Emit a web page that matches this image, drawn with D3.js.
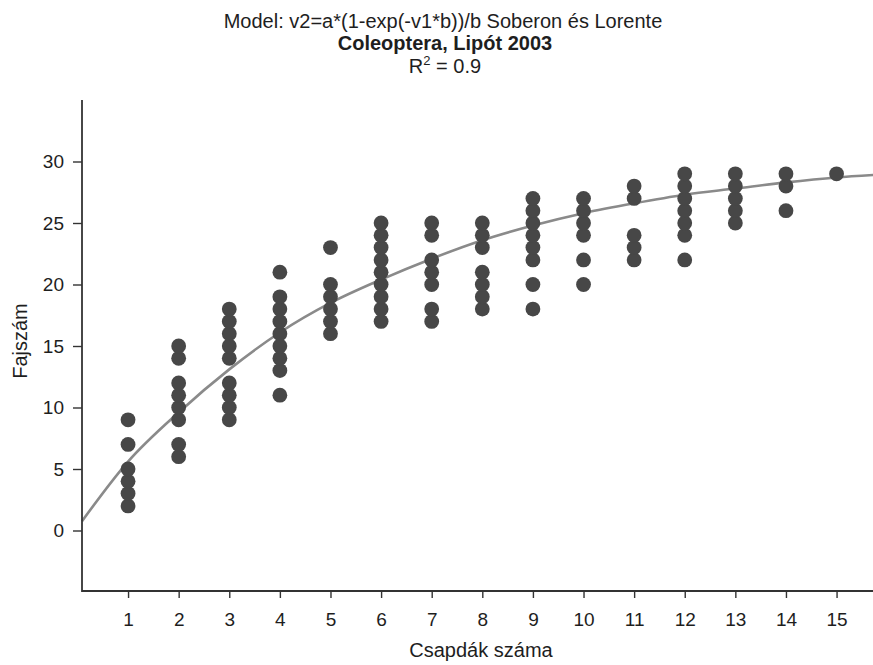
<!DOCTYPE html>
<html>
<head>
<meta charset="utf-8">
<script src="https://cdn.jsdelivr.net/npm/d3@7"></script>
<style>
  html, body { margin: 0; padding: 0; background: #fff; }
  svg { display: block; }
  text { font-family: "Liberation Sans", Arial, sans-serif; fill: #1e1e1e; }
</style>
</head>
<body>
<svg id="chart" width="873" height="665"></svg>
<script>
// Number of traps (x) and the species counts observed for each trap count
const trapCounts = [1, 2, 3, 4, 5, 6, 7, 8, 9, 10, 11, 12, 13, 14, 15];
const speciesByTraps = [
  [2, 3, 4, 5, 7, 9],
  [6, 7, 9, 10, 11, 12, 14, 15],
  [9, 10, 11, 12, 14, 15, 16, 17, 18],
  [11, 13, 14, 15, 16, 17, 18, 19, 21],
  [16, 17, 18, 19, 20, 23],
  [17, 18, 19, 20, 21, 22, 23, 24, 25],
  [17, 18, 20, 21, 22, 24, 25],
  [18, 19, 20, 21, 23, 24, 25],
  [18, 20, 22, 23, 24, 25, 26, 27],
  [20, 22, 24, 25, 26, 27],
  [22, 23, 24, 27, 28],
  [22, 24, 25, 26, 27, 28, 29],
  [25, 26, 27, 28, 29],
  [26, 28, 29],
  [29]
];

// Fitted Soberón–Llorente accumulation curve, sampled along the x range
const fitX = [0.09, 1, 2, 3, 4, 5, 6, 7, 8, 9, 10, 11, 12, 13, 14, 15, 15.73];
const fitY = [0.76, 5.6, 9.6, 13.1, 16.1, 18.5, 20.4, 22.1, 23.6, 24.8, 25.8, 26.6, 27.3, 27.8, 28.3, 28.7, 28.9];

const yTicks = [0, 5, 10, 15, 20, 25, 30];

const titleLine1 = "Model: v2=a*(1-exp(-v1*b))/b Soberon és Lorente";
const titleLine2 = "Coleoptera, Lipót 2003";
const rSquared = "0.9";
const xTitle = "Csapdák száma";
const yTitle = "Fajszám";

const points = [];
trapCounts.forEach((t, i) => speciesByTraps[i].forEach(s => points.push({ x: t, y: s })));
const fit = fitX.map((x, i) => ({ x, y: fitY[i] }));

const svg = d3.select("#chart");
const plotLeft = 82, plotRight = 873, plotTop = 100, plotBottom = 592;

const x = d3.scaleLinear().domain([0.09, 15.72]).range([plotLeft, plotRight]);
const y = d3.scaleLinear().domain([-5, 35]).range([plotBottom, plotTop]);

// Titles
const cx = 443;
svg.append("text").attr("x", cx).attr("y", 28).attr("text-anchor", "middle")
  .style("font-size", "20px").text(titleLine1);
svg.append("text").attr("x", cx + 2).attr("y", 50).attr("text-anchor", "middle")
  .style("font-size", "20px").style("font-weight", "bold").text(titleLine2);
const r2 = svg.append("text").attr("x", cx + 2).attr("y", 73).attr("text-anchor", "middle")
  .style("font-size", "20px");
r2.append("tspan").text("R");
r2.append("tspan").attr("dy", -8).style("font-size", "13px").text("2");
r2.append("tspan").attr("dy", 8).text(" = " + rSquared);

// Fitted curve
svg.append("path")
  .datum(fit)
  .attr("fill", "none")
  .attr("stroke", "#8a8a8a")
  .attr("stroke-width", 2.6)
  .attr("d", d3.line().x(d => x(d.x)).y(d => y(d.y)).curve(d3.curveMonotoneX));

// Observations
svg.append("g").selectAll("circle")
  .data(points)
  .join("circle")
  .attr("cx", d => x(d.x))
  .attr("cy", d => y(d.y))
  .attr("r", 7.4)
  .attr("fill", "#474747");

// Axes
const xAxis = svg.append("g")
  .attr("transform", `translate(0,${plotBottom - 1})`)
  .call(d3.axisBottom(x).tickValues(trapCounts).tickSize(7).tickPadding(15).tickSizeOuter(0));
const yAxis = svg.append("g")
  .attr("transform", `translate(${plotLeft},0)`)
  .call(d3.axisLeft(y).tickValues(yTicks).tickSize(9).tickPadding(9).tickSizeOuter(0));

[xAxis, yAxis].forEach(g => {
  g.select(".domain").attr("stroke", "#333").attr("stroke-width", 1.8);
  g.selectAll(".tick line").attr("stroke", "#333").attr("stroke-width", 1.4);
  g.selectAll(".tick text")
    .style("font-size", "19px")
    .style("font-family", "'Liberation Sans', Arial, sans-serif")
    .attr("fill", "#1e1e1e");
});
// axis lines span the whole plot area
yAxis.select(".domain").attr("d", `M0,${plotTop}V${plotBottom}`);
xAxis.select(".domain").attr("d", `M${plotLeft},0H${plotRight}`);

// Axis titles
svg.append("text")
  .attr("x", 481).attr("y", 657)
  .attr("text-anchor", "middle")
  .style("font-size", "20px")
  .text(xTitle);
svg.append("text")
  .attr("transform", `translate(27,${(plotTop + plotBottom) / 2 - 5}) rotate(-90)`)
  .attr("text-anchor", "middle")
  .style("font-size", "20px")
  .text(yTitle);
</script>
</body>
</html>
